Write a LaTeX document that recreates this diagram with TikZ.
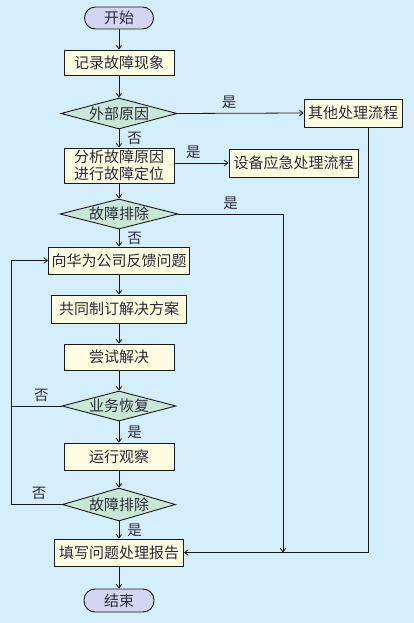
\documentclass[tikz,border=0pt]{standalone}
\usepackage{fontspec}
\newfontfamily\cjk{Noto Sans CJK SC}
\usetikzlibrary{positioning,arrows.meta,shapes.geometric}
\definecolor{cBg}{HTML}{D4EEFB}
\definecolor{cProcF}{HTML}{FFFDE1}
\definecolor{cDecF}{HTML}{C9E7D6}
\definecolor{cTermF}{HTML}{D3D6F1}
\definecolor{cEdge}{HTML}{1A1A1A}
\definecolor{cText}{HTML}{2A2A3A}
\tikzset{
  base/.style ={draw=cEdge, line width=0.9pt, align=center, inner sep=0pt,
                font=\cjk\fontsize{15}{17.5}\selectfont, text=cText},
  proc/.style ={base, rectangle, fill=cProcF},
  dec/.style  ={base, diamond, aspect=3.8, fill=cDecF},
  term/.style ={base, rounded corners=11pt, fill=cTermF},
  flow/.style ={-{Straight Barb[length=1.3mm,width=2mm]}, line width=0.8pt, draw=cEdge},
  link/.style ={line width=0.8pt, draw=cEdge},
  lbl/.style  ={font=\cjk\fontsize{14.5}{16}\selectfont, text=cText, inner sep=1pt},
}

\begin{document}
\begin{tikzpicture}[x=1pt,y=-1pt]

  % ===== page =====
  \useasboundingbox (0,0) rectangle (414,623);
  \fill[cBg] (0,0) rectangle (414,623);

  % ===== main column =====
  \node[term, minimum width=69pt, minimum height=22pt] (start) at (119,18) {开始};
  \node[proc, minimum width=110pt, minimum height=25pt] (rec) at (119,62.5) {记录故障现象};
  \node[dec, minimum width=116pt, minimum height=31pt] (ext) at (119,113.5) {外部原因};
  \node[proc, minimum width=110pt, minimum height=35pt] (anal) at (119,165.5)
    {分析故障原因\\[0pt]进行故障定位};
  \node[dec, minimum width=118pt, minimum height=30pt] (fixA) at (119,214) {故障排除};
  \node[proc, minimum width=141pt, minimum height=27pt] (feed) at (119,260.5) {向华为公司反馈问题};
  \node[proc, minimum width=135pt, minimum height=28pt] (plan) at (119,309) {共同制订解决方案};
  \node[proc, minimum width=110pt, minimum height=26pt] (try) at (119,357) {尝试解决};
  \node[dec, minimum width=114pt, minimum height=30pt] (svc) at (119,406) {业务恢复};
  \node[proc, minimum width=110pt, minimum height=27pt] (obs) at (119,456.5) {运行观察};
  \node[dec, minimum width=110pt, minimum height=33pt] (fixB) at (119,504.5) {故障排除};
  \node[proc, minimum width=129pt, minimum height=27pt] (rep) at (119,552.5) {填写问题处理报告};
  \node[term, minimum width=70pt, minimum height=23pt] (stop) at (119,600.5) {结束};

  % ===== side branches =====
  \node[proc, minimum width=98pt, minimum height=28pt] (other) at (353,113) {其他处理流程};
  \node[proc, minimum width=129pt, minimum height=28pt] (emer) at (293.5,163) {设备应急处理流程};

  % lane coordinates
  \coordinate (laneL) at (11,0);
  \coordinate (laneA) at (283,0);
  \coordinate (laneB) at (368,0);

  % ===== main edges =====
  \draw[flow] (start) -- (rec);
  \draw[flow] (rec) -- (ext);
  \draw[flow] (ext) -- node[lbl, midway, right=7pt]{否} (anal);
  \draw[flow] (anal) -- (fixA);
  \draw[flow] (fixA) -- node[lbl, midway, right=7pt]{否} (feed);
  \draw[flow] (feed) -- (plan);
  \draw[flow] (plan) -- (try);
  \draw[flow] (try) -- (svc);
  \draw[flow] (svc) -- node[lbl, midway, right=7pt]{是} (obs);
  \draw[flow] (obs) -- (fixB);
  \draw[flow] (fixB) -- node[lbl, midway, right=7pt]{是} (rep);
  \draw[flow] (rep) -- (stop);

  % ===== yes branches to the right =====
  \draw[flow] (ext.east) -- node[lbl, pos=0.41, above=3pt]{是} (other.west);
  \draw[flow] (anal.east |- emer) -- node[lbl, pos=0.35, above=3pt]{是} (emer.west);
  \draw[flow] (fixA.east) -- node[lbl, midway, above=3pt]{是} (fixA.east -| laneA)
    -- (laneA |- rep.east);
  \draw[flow] (laneB |- other.south) |- (rep.east);

  % ===== feedback loops on the left =====
  \draw[flow] (svc.west) -- node[lbl, pos=0.4, above=3pt]{否} (svc.west -| laneL)
    |- (feed.west);
  \draw[link] (fixB.west) -- node[lbl, pos=0.45, above=3pt]{否} (fixB.west -| laneL)
    -- (svc.west -| laneL);

\end{tikzpicture}
\end{document}
